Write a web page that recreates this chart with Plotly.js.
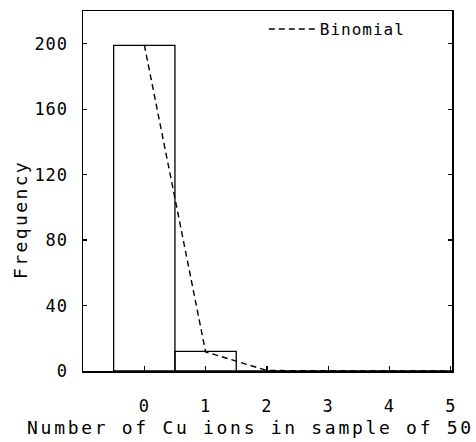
<!DOCTYPE html>
<html>
<head>
<meta charset="utf-8">
<script src="https://cdn.plot.ly/plotly-3.0.1.min.js"></script>
<style>
html, body { margin: 0; padding: 0; background: #fff; }
#chart { width: 476px; height: 442px; }
.annotation-text { letter-spacing: 2.4px; }
.annotation[data-index="0"] .annotation-text { letter-spacing: 2.7px; }
.xtick text, .ytick text { letter-spacing: 1px; }
.legendtext { letter-spacing: 1px; }
</style>
</head>
<body>
<div id="chart"></div>
<script>
// Number of Cu ions in a sample of 50
const ionCounts = [0, 1, 2, 3, 4, 5];
// Observed frequencies (histogram)
const observedFreq = [199, 12, 0, 0, 0, 0];
// Binomial expected frequencies
const binomialFreq = [199.3, 11.7, 0.3, 0, 0, 0];
const xTickVals = [0, 1, 2, 3, 4, 5];
const yTickVals = [0, 40, 80, 120, 160, 200];
const xTitle = "Number of Cu ions in sample of 50";
const yTitle = "Frequency";

const FONT = "DejaVu Sans Mono, monospace";

const traces = [
  {
    type: "bar",
    x: ionCounts,
    y: observedFreq,
    width: 1,
    marker: { color: "rgba(255,255,255,0)", line: { color: "#000", width: 1.3 } },
    showlegend: false,
    name: "Observed"
  },
  {
    type: "scatter",
    mode: "lines",
    x: ionCounts,
    y: binomialFreq,
    line: { color: "#000", width: 1.4, dash: "6px,4px" },
    name: "Binomial"
  }
];

const layout = {
  width: 476,
  height: 442,
  margin: { l: 83, r: 24, t: 11, b: 71 },
  paper_bgcolor: "#fff",
  plot_bgcolor: "#fff",
  font: { family: FONT, color: "#000", size: 16 },
  bargap: 0,
  showlegend: true,
  legend: {
    x: 0.49, y: 0.997, xanchor: "left", yanchor: "top",
    bgcolor: "rgba(0,0,0,0)", borderwidth: 0,
    font: { family: FONT, size: 16, color: "#000" },
    itemwidth: 46
  },
  xaxis: {
    range: [-1, 5.02],
    tickvals: xTickVals,
    ticktext: xTickVals.map(String),
    ticks: "inside", ticklen: 5, tickwidth: 1.3, tickcolor: "#000",
    showline: true, linecolor: "#000", linewidth: 1.5, mirror: true,
    showgrid: false, zeroline: false,
    ticklabelstandoff: 19,
    tickfont: { family: FONT, size: 17 }
  },
  yaxis: {
    range: [0, 220],
    tickvals: yTickVals,
    ticktext: yTickVals.map(String),
    ticks: "inside", ticklen: 4, tickwidth: 1.3, tickcolor: "#000",
    showline: true, linecolor: "#000", linewidth: 1.5, mirror: "ticks",
    showgrid: false, zeroline: false,
    ticklabelstandoff: 10,
    tickfont: { family: FONT, size: 17 }
  },
  annotations: [
    {
      text: xTitle, xref: "paper", yref: "paper",
      x: 0.455, y: -0.1556, xanchor: "center", yanchor: "middle",
      showarrow: false, font: { family: FONT, size: 18, color: "#000" }
    },
    {
      text: yTitle, xref: "paper", yref: "paper", textangle: -90,
      x: -0.1707, y: 0.4194, xanchor: "center", yanchor: "middle",
      showarrow: false, font: { family: FONT, size: 18, color: "#000" }
    }
  ]
};

Plotly.newPlot("chart", traces, layout, { staticPlot: true, displayModeBar: false });
</script>
</body>
</html>
